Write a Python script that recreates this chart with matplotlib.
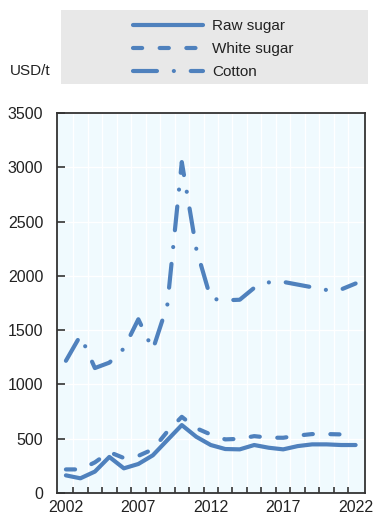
import numpy as np
import matplotlib
matplotlib.use('Agg')
import matplotlib.pyplot as plt
from matplotlib.patches import Rectangle

plt.rcParams['font.family'] = ['Liberation Sans', 'DejaVu Sans']

# prices, USD/t
years = list(range(2002, 2023))
raw_sugar = [160, 133, 195, 330, 225, 265, 345, 485, 624, 516, 440, 403, 400,
             440, 415, 400, 430, 446, 446, 440, 440]
white_sugar = [215, 215, 280, 375, 320, 340, 400, 564, 700, 595, 537, 492, 497,
               522, 508, 507, 527, 541, 541, 538, 538]
cotton = [1217, 1450, 1150, 1200, 1330, 1600, 1320, 1730, 3050, 2250, 1790, 1775, 1780,
          1890, 1940, 1945, 1920, 1895, 1870, 1875, 1930]

blue = '#4F81BD'
txt = '#222222'

fig = plt.figure(figsize=(3.74, 5.18), dpi=100)
ax = fig.add_axes([0.153, 0.0488, 0.823, 0.7325])
ax.set_facecolor('#F0FAFE')

l1, = ax.plot(years, raw_sugar, color=blue, lw=3, solid_capstyle='round', label='Raw sugar')
l2, = ax.plot(years, white_sugar, color=blue, lw=3, dash_capstyle='round', label='White sugar')
l2.set_dashes((2.2, 4.2))
l3, = ax.plot(years, cotton, color=blue, lw=3, dash_capstyle='round', label='Cotton')
l3.set_dashes((5.75, 4.05, 0.01, 4.05))

ax.set_xlim(2001.4, 2022.65)
ax.set_ylim(0, 3500)
ax.set_yticks(np.arange(0, 3501, 500))
ax.set_xticks(np.arange(2002, 2023, 5))
ax.set_xticks(np.arange(2002.5, 2022, 1), minor=True)

ax.grid(True, which='minor', axis='x', color='white', lw=1)
ax.grid(True, which='major', axis='y', color='white', lw=1)
ax.set_axisbelow(True)

ax.tick_params(axis='x', which='major', length=0, pad=5, labelsize=11.5, labelcolor=txt)
ax.tick_params(axis='x', which='minor', direction='in', length=4, width=1.2, color='#333333')
ax.tick_params(axis='y', direction='in', length=6, width=1.2, color='#333333',
               pad=10, labelsize=11.5, labelcolor=txt)
for s in ax.spines.values():
    s.set_color('#333333')
    s.set_linewidth(1.3)

# legend box
fig.patches.append(Rectangle((61 / 374, 1 - 84 / 518), 307 / 374, 74 / 518,
                             transform=fig.transFigure, facecolor='#E8E8E8',
                             edgecolor='none', zorder=0))
fig.legend(handles=[l1, l2, l3], loc='upper left', bbox_to_anchor=(133 / 374, 1 - 19 / 518),
           frameon=False, fontsize=11, handlelength=4.6, handletextpad=0.6,
           labelspacing=0.6, borderpad=0, borderaxespad=0, labelcolor=txt)

fig.text(10 / 374, 1 - 71 / 518, 'USD/t', fontsize=11, color=txt, va='center', ha='left')

fig.savefig('out.png', dpi=100)
